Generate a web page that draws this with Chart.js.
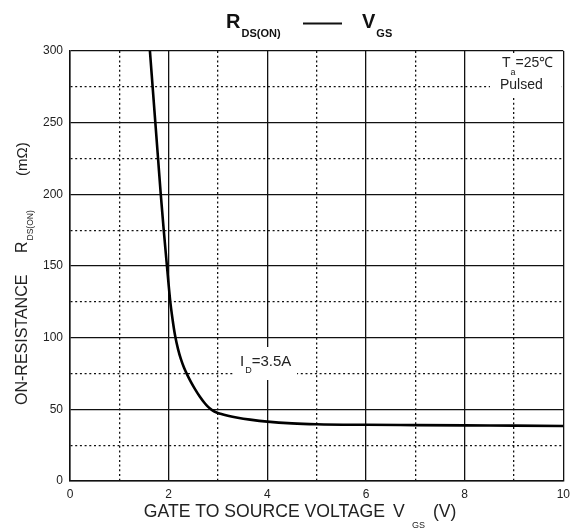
<!DOCTYPE html>
<html>
<head>
<meta charset="utf-8">
<script src="https://cdn.jsdelivr.net/npm/chart.js@4.4.0/dist/chart.umd.min.js"></script>
<style>
html, body { margin: 0; padding: 0; background: #fff; }
#wrap { width: 576px; height: 531px; }
</style>
</head>
<body>
<div id="wrap"><canvas id="rdsChart" width="576" height="531"></canvas></div>
<script>
// values (ID = 3.5A, Ta = 25C)
const vgs = [1.55, 1.62, 1.675, 1.73, 1.785, 1.84, 1.9, 1.965, 2.03, 2.08, 2.13, 2.19, 2.25, 2.31, 2.37,
             2.45, 2.54, 2.63, 2.72, 2.8, 2.88, 2.96, 3.05, 3.2, 3.4, 3.65, 4.0, 4.5, 5.0, 6.0, 7.0, 8.0, 9.0, 10.0];
const rds = [330, 300, 275, 250, 225, 200, 175, 150, 126, 112.5, 101.5, 92, 84.8, 79.2, 74.6,
             69.2, 63.8, 59, 54.8, 51.7, 49.5, 48.0, 46.9, 45.5, 44.1, 42.8, 41.4, 40.2, 39.6, 39.2, 39.0, 38.8, 38.6, 38.4];

const xLabels = [0, 2, 4, 6, 8, 10];
const yLabels = [0, 50, 100, 150, 200, 250, 300];

const FONT = '"Liberation Sans", Arial, sans-serif';
const INK = '#111';

function isMajor(list, v) {
    return list.some(t => Math.abs(t - v) < 1e-6);
}

// draws a run of text pieces left to right, each with own font and baseline shift
function drawRun(ctx, pieces, x, y) {
    let cx = x;
    pieces.forEach(p => {
        ctx.font = p.font;
        cx += p.gap || 0;
        ctx.fillText(p.text, cx, y + (p.dy || 0));
        cx += ctx.measureText(p.text).width;
    });
}

const labelsPlugin = {
    id: 'datasheetLabels',
    afterDraw(chart) {
        const ctx = chart.ctx;
        const area = chart.chartArea;
        ctx.save();
        ctx.fillStyle = INK;
        ctx.textAlign = 'left';
        ctx.textBaseline = 'alphabetic';

        // title  R_DS(ON) ---- V_GS
        drawRun(ctx, [
            { text: 'R', font: 'bold 20px ' + FONT },
            { text: 'DS(ON)', font: 'bold 11px ' + FONT, dy: 9, gap: 1 }
        ], 226, 28);
        ctx.strokeStyle = INK;
        ctx.lineWidth = 2;
        ctx.beginPath();
        ctx.moveTo(303, 23.5);
        ctx.lineTo(342, 23.5);
        ctx.stroke();
        drawRun(ctx, [
            { text: 'V', font: 'bold 20px ' + FONT },
            { text: 'GS', font: 'bold 11px ' + FONT, dy: 9, gap: 1 }
        ], 362, 28);

        // x axis title
        ctx.fillStyle = '#222';
        ctx.font = '17.6px ' + FONT;
        ctx.textAlign = 'right';
        ctx.fillText('GATE TO SOURCE VOLTAGE', 385, 517);
        ctx.textAlign = 'left';
        ctx.fillText('V', 393, 517);
        ctx.font = '9px ' + FONT;
        ctx.fillText('GS', 412, 528);
        ctx.font = '17.6px ' + FONT;
        ctx.fillText('(V)', 433, 517);

        // y axis title, rotated
        ctx.save();
        ctx.translate(27, 0);
        ctx.rotate(-Math.PI / 2);
        ctx.font = '16px ' + FONT;
        ctx.fillText('ON-RESISTANCE', -405, 0);
        drawRun(ctx, [
            { text: 'R', font: '16px ' + FONT },
            { text: 'DS(ON)', font: '8.5px ' + FONT, dy: 6, gap: 1 }
        ], -253, 0);
        ctx.font = '15px ' + FONT;
        ctx.fillText('(m\u03A9)', -176, 0);
        ctx.restore();

        // Ta / Pulsed note with white backing
        ctx.fillStyle = '#fff';
        ctx.fillRect(490, area.top + 2, area.right - 492, 45);
        ctx.fillStyle = '#222';
        drawRun(ctx, [
            { text: 'T', font: '14px ' + FONT },
            { text: 'a', font: '9px ' + FONT, dy: 8, gap: 0 },
            { text: '=25\u2103', font: '14px ' + FONT, gap: 0 }
        ], 502, 67);
        ctx.font = '14px ' + FONT;
        ctx.fillText('Pulsed', 500, 89);

        // ID label with white backing
        ctx.fillStyle = '#fff';
        ctx.fillRect(233, 347, 64, 33);
        ctx.fillStyle = '#222';
        drawRun(ctx, [
            { text: 'I', font: '15px ' + FONT },
            { text: 'D', font: '9px ' + FONT, dy: 7, gap: 1 },
            { text: '=3.5A', font: '15px ' + FONT, gap: 0 }
        ], 240, 366);

        ctx.restore();
    }
};

function gridDash(list) {
    return ctx => {
        if (!ctx.tick) return [];
        return isMajor(list, ctx.tick.value) ? [] : [2, 2.7];
    };
}

new Chart(document.getElementById('rdsChart'), {
    type: 'line',
    data: {
        datasets: [{
            data: vgs.map((v, i) => ({ x: v, y: rds[i] })),
            borderColor: '#000',
            borderWidth: 2.6,
            pointRadius: 0,
            fill: false,
            cubicInterpolationMode: 'monotone'
        }]
    },
    options: {
        responsive: false,
        animation: false,
        devicePixelRatio: 1,
        layout: { padding: { left: 0, right: 12, top: 51, bottom: 0 } },
        plugins: {
            legend: { display: false },
            title: { display: false },
            tooltip: { enabled: false }
        },
        scales: {
            x: {
                type: 'linear',
                min: 0,
                max: 10,
                afterFit: s => { s.height = 50; },
                ticks: {
                    stepSize: 1,
                    padding: 6,
                    color: '#222',
                    font: { family: FONT, size: 12 },
                    callback: v => isMajor(xLabels, v) ? String(v) : ''
                },
                grid: { color: INK, lineWidth: 1.3, drawTicks: false },
                border: { display: true, color: INK, width: 1.5, dash: gridDash(xLabels) }
            },
            y: {
                min: 0,
                max: 300,
                afterFit: s => { s.width = 70; },
                ticks: {
                    stepSize: 25,
                    padding: 7,
                    color: '#222',
                    font: { family: FONT, size: 12 },
                    callback: v => isMajor(yLabels, v) ? String(v) : ''
                },
                grid: { color: INK, lineWidth: 1.3, drawTicks: false },
                border: { display: true, color: INK, width: 1.5, dash: gridDash(yLabels) }
            }
        }
    },
    plugins: [labelsPlugin]
});
</script>
</body>
</html>
